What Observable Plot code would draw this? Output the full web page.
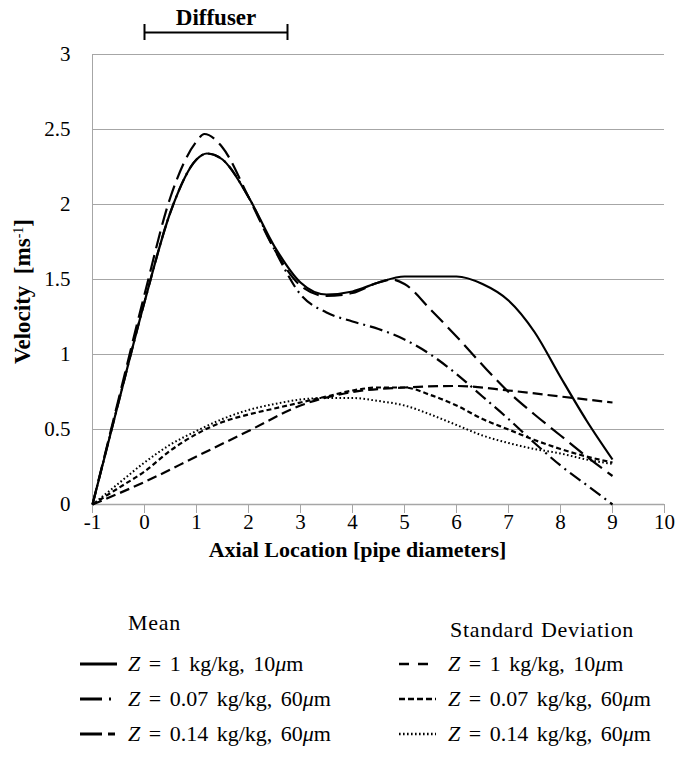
<!DOCTYPE html>
<html>
<head>
<meta charset="utf-8">
<script src="https://cdn.jsdelivr.net/npm/d3@7"></script>
<script src="https://cdn.jsdelivr.net/npm/@observablehq/plot@0.6"></script>
<style>
  html, body { margin: 0; padding: 0; background: #fff; }
  #wrap { position: relative; width: 692px; height: 759px; font-family: "Liberation Serif", "DejaVu Serif", serif; color: #000; }
  #chart svg, #chart svg text { font-family: "Liberation Serif", "DejaVu Serif", serif; }
  #legend { position: absolute; left: 0; top: 0; width: 692px; height: 759px; pointer-events: none; }
  .lg { position: absolute; font-size: 22px; white-space: nowrap; line-height: 1; transform: translateY(-50%); word-spacing: 3px; }
  .hd { letter-spacing: 0.7px; word-spacing: 1px; }
  .sample { position: absolute; }
</style>
</head>
<body>
<div id="wrap"><div id="chart"></div><div id="legend"></div></div>
<script>
// ---- data ----
const xTicks = [-1, 0, 1, 2, 3, 4, 5, 6, 7, 8, 9, 10];
const yTicks = [0, 0.5, 1, 1.5, 2, 2.5, 3];
const diffuserSpan = [0, 2.75];

// Mean, Z = 1 kg/kg, 10um (solid)
const meanZ1X = [-1, -0.5, 0, 0.5, 1, 1.2, 1.5, 2, 2.5, 3, 3.5, 4, 4.5, 5, 5.5, 6, 6.5, 7, 7.5, 8, 8.5, 9];
const meanZ1Y = [0, 0.68, 1.35, 1.95, 2.3, 2.34, 2.3, 2.05, 1.72, 1.48, 1.4, 1.42, 1.48, 1.52, 1.52, 1.52, 1.47, 1.36, 1.15, 0.85, 0.56, 0.3];
// Mean, Z = 0.07 kg/kg, 60um (dash-dot)
const meanZ007X = [-1, -0.5, 0, 0.5, 1, 1.2, 1.5, 2, 2.5, 3, 3.5, 4, 4.5, 5, 5.5, 6, 6.5, 7, 7.5, 8, 8.5, 9];
const meanZ007Y = [0, 0.68, 1.35, 1.95, 2.3, 2.34, 2.3, 2.05, 1.7, 1.4, 1.28, 1.22, 1.17, 1.1, 1.0, 0.87, 0.72, 0.57, 0.41, 0.26, 0.13, 0];
// Mean, Z = 0.14 kg/kg, 60um (long dash)
const meanZ014X = [-1, -0.5, 0, 0.5, 1, 1.15, 1.5, 2, 2.5, 3, 3.5, 4, 4.5, 4.75, 5, 5.5, 6, 6.5, 7, 7.5, 8, 8.5, 9];
const meanZ014Y = [0, 0.7, 1.4, 2.05, 2.42, 2.47, 2.38, 2.05, 1.7, 1.46, 1.39, 1.41, 1.48, 1.5, 1.47, 1.3, 1.12, 0.93, 0.75, 0.6, 0.46, 0.32, 0.19];
// Std dev, Z = 1 kg/kg, 10um (dash)
const sdZ1X = [-1, 0, 1, 2, 3, 4, 5, 6, 7, 8, 9];
const sdZ1Y = [0, 0.15, 0.32, 0.49, 0.66, 0.75, 0.78, 0.79, 0.76, 0.72, 0.68];
// Std dev, Z = 0.07 kg/kg, 60um (short dash)
const sdZ007X = [-1, -0.5, 0, 0.5, 1, 1.5, 2, 2.5, 3, 3.5, 4, 4.5, 5, 5.5, 6, 6.5, 7, 7.5, 8, 8.5, 9];
const sdZ007Y = [0, 0.11, 0.22, 0.36, 0.47, 0.55, 0.6, 0.64, 0.68, 0.72, 0.76, 0.78, 0.78, 0.73, 0.66, 0.57, 0.5, 0.43, 0.37, 0.32, 0.28];
// Std dev, Z = 0.14 kg/kg, 60um (dotted)
const sdZ014X = [-1, -0.5, 0, 0.5, 1, 1.5, 2, 2.5, 3, 3.5, 4, 4.5, 5, 5.5, 6, 6.5, 7, 7.5, 8, 8.5, 9];
const sdZ014Y = [0, 0.14, 0.28, 0.4, 0.49, 0.57, 0.63, 0.67, 0.7, 0.71, 0.71, 0.69, 0.66, 0.6, 0.53, 0.46, 0.41, 0.37, 0.34, 0.3, 0.27];

const meanLabels = ["Z = 1 kg/kg, 10μm", "Z = 0.07 kg/kg, 60μm", "Z = 0.14 kg/kg, 60μm"];
const sdLabels = ["Z = 1 kg/kg, 10μm", "Z = 0.07 kg/kg, 60μm", "Z = 0.14 kg/kg, 60μm"];

// ---- styles (kept separate from data) ----
const FONT = "Liberation Serif";
const lineStyles = {
  meanZ1:   {dash: null,          width: 2.2},
  meanZ007: {dash: "13,5,2,5",    width: 2.2},
  meanZ014: {dash: "17,7",        width: 2.2},
  sdZ1:     {dash: "10,5",        width: 2.2},
  sdZ007:   {dash: "5,3",         width: 2.2},
  sdZ014:   {dash: "1.6,2.4",     width: 2.0}
};

const series = [
  {key: "meanZ1", xs: meanZ1X, ys: meanZ1Y},
  {key: "meanZ007", xs: meanZ007X, ys: meanZ007Y},
  {key: "meanZ014", xs: meanZ014X, ys: meanZ014Y},
  {key: "sdZ1", xs: sdZ1X, ys: sdZ1Y},
  {key: "sdZ007", xs: sdZ007X, ys: sdZ007Y},
  {key: "sdZ014", xs: sdZ014X, ys: sdZ014Y}
];

const lineMarks = series.map(s => {
  const st = lineStyles[s.key];
  const rows = s.xs.map((x, i) => ({x, y: s.ys[i]}));
  const opts = {x: "x", y: "y", curve: "monotone-x", stroke: "black", strokeWidth: st.width, strokeLinecap: "butt"};
  if (st.dash) opts.strokeDasharray = st.dash;
  return Plot.line(rows, opts);
});

const yTop = yTicks[yTicks.length - 1];
const grey = "#a6a6a6";

const chart = Plot.plot({
  width: 692,
  height: 580,
  marginLeft: 92,
  marginRight: 28,
  marginTop: 54,
  marginBottom: 76,
  style: {fontFamily: FONT, fontSize: "21px", color: "black", background: "white"},
  x: {domain: [xTicks[0], xTicks[xTicks.length - 1]]},
  y: {domain: [yTicks[0], yTop]},
  marks: [
    Plot.gridY(yTicks.filter(d => d > 0), {stroke: grey, strokeOpacity: 1, strokeWidth: 1}),
    Plot.ruleX([xTicks[0]], {stroke: grey, strokeWidth: 1}),
    Plot.ruleY([yTicks[0]], {stroke: grey, strokeWidth: 1.5}),
    Plot.axisY({ticks: yTicks, tickSize: 0, tickPadding: 22, tickFormat: d => String(d), label: null, fontFamily: FONT, fontSize: 21}),
    Plot.axisX({ticks: xTicks, tickSize: 9, tickPadding: 1, stroke: grey, tickFormat: d => String(d), label: null, fontFamily: FONT, fontSize: 21}),
    ...lineMarks,
    // diffuser bracket
    Plot.ruleY([yTop], {x1: diffuserSpan[0], x2: diffuserSpan[1], dy: -22, stroke: "black", strokeWidth: 2}),
    Plot.ruleX(diffuserSpan, {y1: yTop, y2: yTop, insetTop: -8, insetBottom: -8, dy: -22, stroke: "black", strokeWidth: 2}),
    Plot.text(["Diffuser"], {x: (diffuserSpan[0] + diffuserSpan[1]) / 2, y: yTop, dy: -37, text: d => d, fontWeight: "bold", fontSize: 23, fontFamily: FONT}),
    // axis titles
    Plot.text(["Axial Location [pipe diameters]"], {frameAnchor: "bottom", textAnchor: "middle", lineAnchor: "middle", text: d => d, dx: -21, dy: 45, fontWeight: "bold", fontSize: 22, fontFamily: FONT}),
    Plot.text(["Velocity  [ms-1]"], {frameAnchor: "left", textAnchor: "middle", lineAnchor: "middle", text: d => d, rotate: -90, dx: -70, dy: 12, fontWeight: "bold", fontSize: 23, fontFamily: FONT})
  ]
});
document.getElementById("chart").appendChild(chart);

// render the unit exponent as a real superscript
const NS = "http://www.w3.org/2000/svg";
chart.querySelectorAll("text").forEach(t => {
  const s = t.textContent;
  if (s.startsWith("Velocity")) {
    const m = s.match(/^(.*\[ms)(-1)(\])$/);
    if (m) {
      t.textContent = m[1];
      const sup = document.createElementNS(NS, "tspan");
      sup.setAttribute("baseline-shift", "super");
      sup.setAttribute("font-size", "14");
      sup.setAttribute("font-weight", "normal");
      sup.textContent = m[2];
      t.appendChild(sup);
      const close = document.createElementNS(NS, "tspan");
      close.textContent = m[3];
      t.appendChild(close);
    }
  }
});

// ---- legend ----
const legend = document.getElementById("legend");
function fmt(label) {
  return label.replace(/^Z/, "<i>Z</i>").replace("μ", "<i>μ</i>");
}
function addText(html, left, cy, cls) {
  const d = document.createElement("div");
  d.className = "lg" + (cls ? " " + cls : "");
  d.style.left = left + "px";
  d.style.top = cy + "px";
  d.innerHTML = html;
  legend.appendChild(d);
}
const legendDash = {
  meanZ1: null, meanZ007: "22,7,2,20", meanZ014: "22,6,7,20",
  sdZ1: "10,9", sdZ007: "6,3", sdZ014: "1.6,2.4"
};
function addSample(key, x1, x2, cy) {
  const svg = document.createElementNS(NS, "svg");
  svg.setAttribute("class", "sample");
  svg.setAttribute("width", x2 - x1 + 2);
  svg.setAttribute("height", 6);
  svg.style.left = x1 + "px";
  svg.style.top = (cy - 3) + "px";
  const l = document.createElementNS(NS, "line");
  l.setAttribute("x1", 0); l.setAttribute("x2", x2 - x1);
  l.setAttribute("y1", 3); l.setAttribute("y2", 3);
  l.setAttribute("stroke", "black");
  l.setAttribute("stroke-width", key.startsWith("mean") ? 3 : 2.5);
  if (legendDash[key]) l.setAttribute("stroke-dasharray", legendDash[key]);
  svg.appendChild(l);
  legend.appendChild(svg);
}
const rowY = [664, 699, 734];
addText("Mean", 128, 623, "hd");
addText("Standard Deviation", 450, 630, "hd");
["meanZ1", "meanZ007", "meanZ014"].forEach((k, i) => { addSample(k, 80, 117, rowY[i]); addText(fmt(meanLabels[i]), 128, rowY[i]); });
["sdZ1", "sdZ007", "sdZ014"].forEach((k, i) => { addSample(k, 399, 436, rowY[i]); addText(fmt(sdLabels[i]), 448, rowY[i]); });
</script>
</body>
</html>
